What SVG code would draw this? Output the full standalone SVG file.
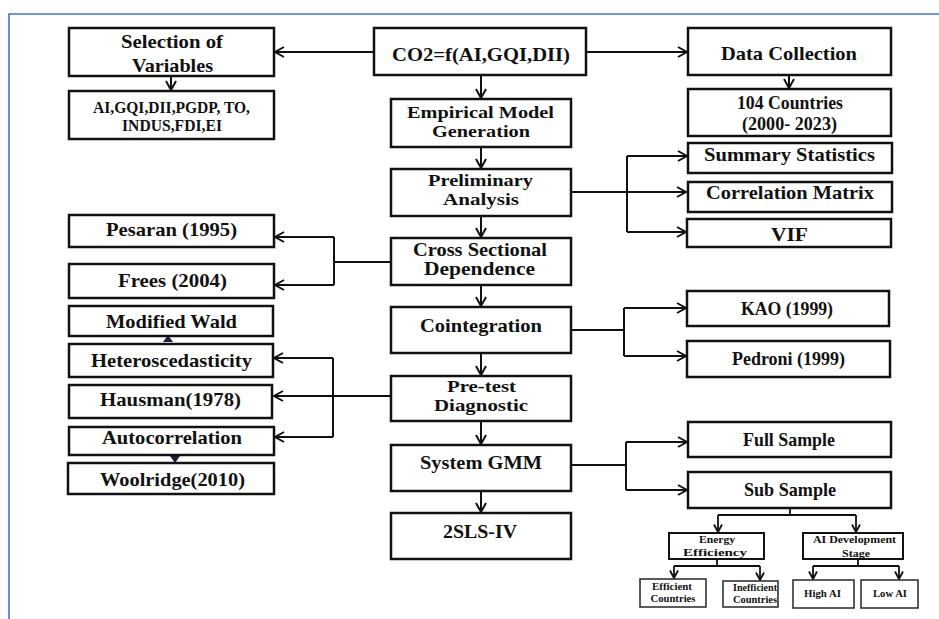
<svg xmlns="http://www.w3.org/2000/svg" width="939" height="619" viewBox="0 0 939 619">
<defs>
<style>
.box{fill:#fff;stroke:#111;stroke-width:2.5}
.sbox{fill:#fff;stroke:#333;stroke-width:1.6}
.t{font-family:"Liberation Serif","Times New Roman",serif;font-weight:bold;fill:#111;text-anchor:middle}
.m{font-size:19px}
.m2{font-size:17px}
.l{font-size:16px}
.s{font-size:11px}
.xs{font-size:10px}
.c{fill:none;stroke:#111;stroke-width:2}
.cs{fill:none;stroke:#111;stroke-width:1.8}
.a{marker-end:url(#ah)}
.as{marker-end:url(#ahs)}
.tri{fill:#1b1f3a}
</style>
<marker id="ah" markerUnits="userSpaceOnUse" markerWidth="12" markerHeight="12" refX="10" refY="6" orient="auto">
<path d="M1,1 L10,6 L1,11" fill="none" stroke="#111" stroke-width="2"/>
</marker>
<marker id="ahs" markerUnits="userSpaceOnUse" markerWidth="10" markerHeight="10" refX="8.5" refY="5" orient="auto">
<path d="M1,1 L8.5,5 L1,9" fill="none" stroke="#111" stroke-width="1.8"/>
</marker>
</defs>
<rect width="939" height="619" fill="#fff"/>
<path d="M9,619 V14 H939" fill="none" stroke="#4472C4" stroke-width="1.6"/>

<g id="connectors">
<path class="c a" d="M374,52 H275"/>
<path class="c a" d="M586,52 H687"/>
<path class="c a" d="M171,76 V90"/>
<path class="c a" d="M789,75 V88"/>
<path class="c a" d="M481,75 V98"/>
<path class="c a" d="M481,147 V168"/>
<path class="c a" d="M481,216 V237"/>
<path class="c a" d="M481,285 V306"/>
<path class="c a" d="M481,353 V375"/>
<path class="c a" d="M481,421 V444"/>
<path class="c a" d="M481,491 V512"/>
<path class="c a" d="M571,192 H686"/>
<path class="c" d="M627,156 V232"/>
<path class="c a" d="M627,156 H687"/>
<path class="c a" d="M627,232 H686"/>
<path class="c" d="M391,262 H334"/>
<path class="c" d="M334,237 V285"/>
<path class="c a" d="M334,237 H275"/>
<path class="c a" d="M334,285 H275"/>
<path class="c" d="M571,330 H624"/>
<path class="c" d="M624,308 V356"/>
<path class="c a" d="M624,308 H686"/>
<path class="c a" d="M624,356 H686"/>
<path class="c a" d="M391,396 H274"/>
<path class="c" d="M333,358 V437"/>
<path class="c a" d="M333,358 H274"/>
<path class="c a" d="M333,437 H275"/>
<path class="c" d="M571,465 H626"/>
<path class="c" d="M626,442 V490"/>
<path class="c a" d="M626,442 H687"/>
<path class="c a" d="M626,490 H687"/>
<path class="cs" d="M790,508 V515 M718,515 H856"/>
<path class="cs as" d="M718,515 V532"/>
<path class="cs as" d="M856,515 V532"/>
<path class="cs" d="M717,559 V566 M674,566 H760"/>
<path class="cs as" d="M674,566 V578"/>
<path class="cs as" d="M760,566 V580"/>
<path class="cs" d="M858,559 V566 M813,566 H899"/>
<path class="cs as" d="M813,566 V579"/>
<path class="cs as" d="M899,566 V579"/>
<path class="tri" d="M163,342 L168,335 L173,342 Z"/>
<path class="tri" d="M170,456 L180,456 L175,463 Z"/>
</g>

<g id="co2"><rect class="box" x="374" y="28" width="212" height="47"/><text class="t m" x="481" y="61" textLength="178" lengthAdjust="spacingAndGlyphs">CO2=f(AI,GQI,DII)</text></g>
<g id="selection"><rect class="box" x="69" y="28" width="205" height="48"/><text class="t m" x="172" y="48" textLength="102" lengthAdjust="spacingAndGlyphs">Selection of</text><text class="t m" x="172.5" y="72" textLength="81" lengthAdjust="spacingAndGlyphs">Variables</text></g>
<g id="variables"><rect class="box" x="69" y="91" width="205" height="48"/><text class="t l" x="171.5" y="113" textLength="157" lengthAdjust="spacingAndGlyphs">AI,GQI,DII,PGDP, TO,</text><text class="t l" x="172" y="131" textLength="100" lengthAdjust="spacingAndGlyphs">INDUS,FDI,EI</text></g>
<g id="data"><rect class="box" x="688" y="28" width="203" height="47"/><text class="t m" x="789" y="60" textLength="136" lengthAdjust="spacingAndGlyphs">Data Collection</text></g>
<g id="countries"><rect class="box" x="688" y="89" width="203" height="47"/><text class="t m" x="790" y="109" textLength="106" lengthAdjust="spacingAndGlyphs">104 Countries</text><text class="t m" x="789.5" y="130" textLength="95" lengthAdjust="spacingAndGlyphs">(2000- 2023)</text></g>
<g id="empirical"><rect class="box" x="391" y="99" width="180" height="48"/><text class="t m2" x="480.5" y="118" textLength="147" lengthAdjust="spacingAndGlyphs">Empirical Model</text><text class="t m2" x="481" y="137" textLength="98" lengthAdjust="spacingAndGlyphs">Generation</text></g>
<g id="preliminary"><rect class="box" x="391" y="169" width="180" height="47"/><text class="t m2" x="480.5" y="186" textLength="105" lengthAdjust="spacingAndGlyphs">Preliminary</text><text class="t m2" x="481" y="205" textLength="76" lengthAdjust="spacingAndGlyphs">Analysis</text></g>
<g id="cross"><rect class="box" x="391" y="238" width="180" height="47"/><text class="t m" x="480" y="256" textLength="134" lengthAdjust="spacingAndGlyphs">Cross Sectional</text><text class="t m" x="479.5" y="275" textLength="111" lengthAdjust="spacingAndGlyphs">Dependence</text></g>
<g id="cointegration"><rect class="box" x="391" y="307" width="180" height="46"/><text class="t m" x="481" y="332" textLength="122" lengthAdjust="spacingAndGlyphs">Cointegration</text></g>
<g id="pretest"><rect class="box" x="391" y="376" width="180" height="45"/><text class="t m2" x="481.5" y="392" textLength="69" lengthAdjust="spacingAndGlyphs">Pre-test</text><text class="t m2" x="481" y="411" textLength="94" lengthAdjust="spacingAndGlyphs">Diagnostic</text></g>
<g id="gmm"><rect class="box" x="391" y="445" width="180" height="46"/><text class="t m" x="481" y="469" textLength="122" lengthAdjust="spacingAndGlyphs">System GMM</text></g>
<g id="sls"><rect class="box" x="391" y="513" width="180" height="46"/><text class="t m" x="480" y="538" textLength="74" lengthAdjust="spacingAndGlyphs">2SLS-IV</text></g>
<g id="summary"><rect class="box" x="688" y="143" width="204" height="30"/><text class="t m" x="789.5" y="161" textLength="171" lengthAdjust="spacingAndGlyphs">Summary Statistics</text></g>
<g id="correlation"><rect class="box" x="688" y="182" width="204" height="30"/><text class="t m" x="790" y="199" textLength="168" lengthAdjust="spacingAndGlyphs">Correlation Matrix</text></g>
<g id="vif"><rect class="box" x="687" y="219" width="204" height="28"/><text class="t m" x="789.5" y="241" textLength="37" lengthAdjust="spacingAndGlyphs">VIF</text></g>
<g id="pesaran"><rect class="box" x="69" y="215" width="205" height="32"/><text class="t m" x="171.5" y="236" textLength="131" lengthAdjust="spacingAndGlyphs">Pesaran (1995)</text></g>
<g id="frees"><rect class="box" x="69" y="264" width="205" height="34"/><text class="t m" x="172.5" y="287" textLength="109" lengthAdjust="spacingAndGlyphs">Frees (2004)</text></g>
<g id="wald"><rect class="box" x="69" y="306" width="204" height="30"/><text class="t m" x="171.5" y="328" textLength="131" lengthAdjust="spacingAndGlyphs">Modified Wald</text></g>
<g id="hetero"><rect class="box" x="69" y="344" width="204" height="33"/><text class="t m" x="171.5" y="367" textLength="161" lengthAdjust="spacingAndGlyphs">Heteroscedasticity</text></g>
<g id="hausman"><rect class="box" x="69" y="385" width="203" height="33"/><text class="t m" x="170.5" y="406" textLength="141" lengthAdjust="spacingAndGlyphs">Hausman(1978)</text></g>
<g id="autocorr"><rect class="box" x="69" y="427" width="205" height="28"/><text class="t m" x="172" y="444" textLength="140" lengthAdjust="spacingAndGlyphs">Autocorrelation</text></g>
<g id="woolridge"><rect class="box" x="68" y="463" width="206" height="31"/><text class="t m" x="172.5" y="486" textLength="145" lengthAdjust="spacingAndGlyphs">Woolridge(2010)</text></g>
<g id="kao"><rect class="box" x="687" y="291" width="202" height="35"/><text class="t m" x="787" y="315" textLength="92" lengthAdjust="spacingAndGlyphs">KAO (1999)</text></g>
<g id="pedroni"><rect class="box" x="687" y="341" width="203" height="36"/><text class="t m" x="788.5" y="365" textLength="113" lengthAdjust="spacingAndGlyphs">Pedroni (1999)</text></g>
<g id="full"><rect class="box" x="688" y="422" width="203" height="35"/><text class="t m" x="789" y="446" textLength="92" lengthAdjust="spacingAndGlyphs">Full Sample</text></g>
<g id="sub"><rect class="box" x="688" y="472" width="203" height="36"/><text class="t m" x="790" y="496" textLength="92" lengthAdjust="spacingAndGlyphs">Sub Sample</text></g>
<g id="energy"><rect class="box" x="669" y="533" width="95" height="26" style="stroke-width:2"/><text class="t s" x="717" y="543" textLength="36" lengthAdjust="spacingAndGlyphs">Energy</text><text class="t s" x="715" y="556" textLength="64" lengthAdjust="spacingAndGlyphs">Efficiency</text></g>
<g id="aidev"><rect class="box" x="803" y="533" width="100" height="26" style="stroke-width:2"/><text class="t s" x="854.5" y="543" textLength="83" lengthAdjust="spacingAndGlyphs">AI Development</text><text class="t s" x="856" y="557" textLength="28" lengthAdjust="spacingAndGlyphs">Stage</text></g>
<g id="efficient"><rect class="sbox" x="640" y="579" width="66" height="28"/><text class="t xs" x="672" y="590" textLength="40" lengthAdjust="spacingAndGlyphs">Efficient</text><text class="t xs" x="673" y="602" textLength="45" lengthAdjust="spacingAndGlyphs">Countries</text></g>
<g id="inefficient"><rect class="sbox" x="723" y="581" width="55" height="26"/><text class="t xs" x="755" y="591" textLength="44" lengthAdjust="spacingAndGlyphs">Inefficient</text><text class="t xs" x="755" y="603" textLength="44" lengthAdjust="spacingAndGlyphs">Countries</text></g>
<g id="highai"><rect class="sbox" x="793" y="580" width="61" height="28"/><text class="t xs" x="822.5" y="597" textLength="37" lengthAdjust="spacingAndGlyphs">High AI</text></g>
<g id="lowai"><rect class="sbox" x="861" y="580" width="57" height="28"/><text class="t xs" x="890" y="597" textLength="34" lengthAdjust="spacingAndGlyphs">Low AI</text></g>
</svg>
